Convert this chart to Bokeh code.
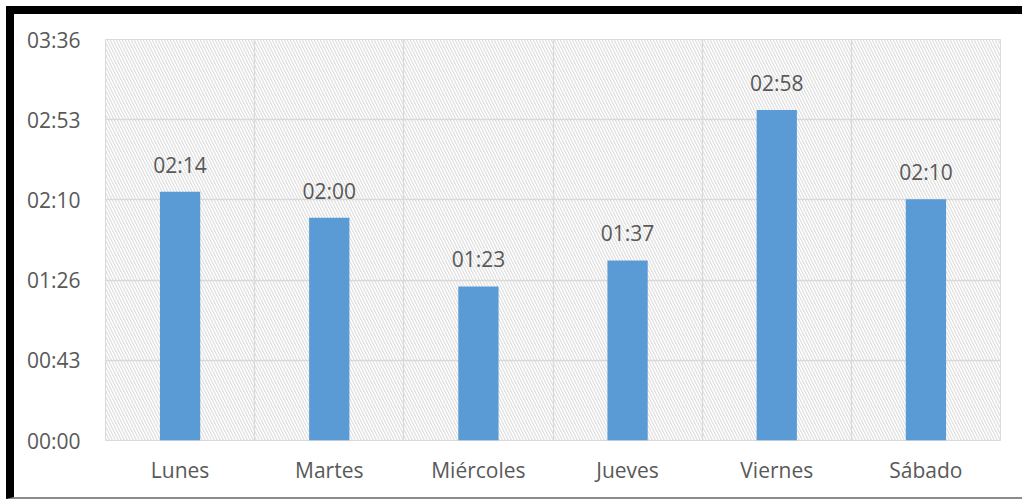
from bokeh.plotting import figure
from bokeh.models import FixedTicker, ColumnDataSource, Range1d
from bokeh.embed import file_html
from bokeh.resources import INLINE
from bokeh.core.properties import value

days = ["Lunes", "Martes", "Miércoles", "Jueves", "Viernes", "Sábado"]
minutes = [134, 120, 83, 97, 178, 130]
value_labels = ["02:14", "02:00", "01:23", "01:37", "02:58", "02:10"]
y_ticks = [0, 43.2, 86.4, 129.6, 172.8, 216]
y_tick_labels = ["00:00", "00:43", "01:26", "02:10", "02:53", "03:36"]

FONT = "Open Sans"
TXT = "#595959"
FS = "21px"

xs = [i + 0.5 for i in range(len(days))]
src = ColumnDataSource(dict(x=xs, y=minutes, lab=value_labels))

p = figure(width=1008, height=483, output_backend="svg", toolbar_location=None,
           x_range=Range1d(0, len(days)), y_range=Range1d(y_ticks[0], y_ticks[-1]),
           min_border_left=91, min_border_right=30, min_border_top=25, min_border_bottom=67,
           styles={"box-sizing": "content-box",
                   "border-top": "8px solid black", "border-left": "8px solid black",
                   "border-bottom": "2px solid #8C8C8C", "margin-top": "6px", "margin-left": "6px"})
p.border_fill_color = "white"
p.background_fill_color = "white"
p.outline_line_color = "#D9D9D9"

# hatched plot-area background
p.quad(left=[0], right=[len(days)], bottom=[y_ticks[0]], top=[y_ticks[-1]],
       fill_color=None, line_color=None, hatch_pattern="\\", hatch_color="#DEDEDE",
       hatch_scale=6, hatch_weight=1.2, level="underlay")

p.vbar(x="x", top="y", width=0.27, bottom=0, source=src, fill_color="#5B9BD5", line_color=None)
p.text(x="x", y="y", text="lab", source=src, text_align="center", text_baseline="bottom",
       y_offset=-13, text_font=value(FONT), text_font_size=FS, text_color=TXT)

p.xaxis.ticker = FixedTicker(ticks=xs)
p.xaxis.major_label_overrides = {x: d for x, d in zip(xs, days)}
p.yaxis.ticker = FixedTicker(ticks=y_ticks)
p.yaxis.major_label_overrides = {t: l for t, l in zip(y_ticks, y_tick_labels)}
for ax in (p.xaxis, p.yaxis):
    ax.axis_line_color = None
    ax.major_tick_line_color = None
    ax.minor_tick_line_color = None
    ax.major_label_text_font = FONT
    ax.major_label_text_font_size = FS
    ax.major_label_text_color = TXT
p.xaxis.major_label_standoff = 9
p.yaxis.major_label_standoff = 19

p.xgrid.ticker = FixedTicker(ticks=list(range(len(days) + 1)))
p.ygrid.ticker = FixedTicker(ticks=y_ticks)
p.grid.grid_line_color = "#D9D9D9"
p.grid.grid_line_width = 1.3

open("out.html", "w").write(file_html(p, INLINE))
